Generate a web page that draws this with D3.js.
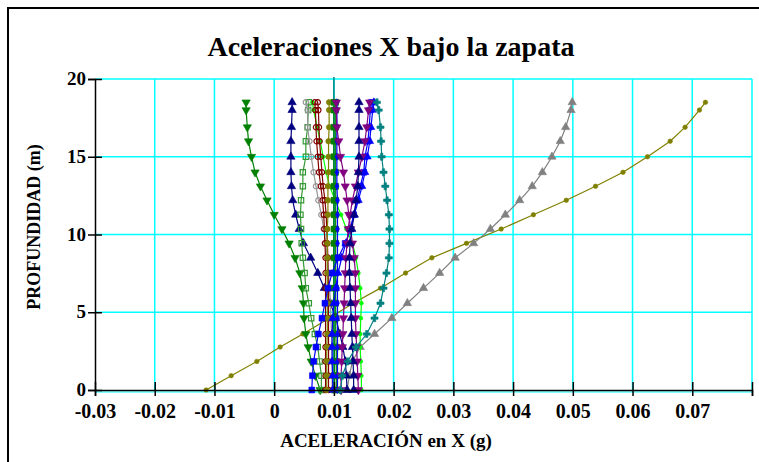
<!DOCTYPE html>
<html><head><meta charset="utf-8">
<script src="https://cdn.jsdelivr.net/npm/d3@7"></script>
<style>body{margin:0;background:#fff}svg{display:block}</style>
</head><body><svg id="c" width="759" height="462"></svg>
<script>
// depths (m), top to bottom
const depths = [18.5, 18.0, 16.9, 16.0, 15.0, 14.0, 13.1, 12.2, 11.27, 10.35, 9.43, 8.5, 7.52, 6.55, 5.58, 4.62, 3.6, 2.76, 1.84, 0.92, 0];
const xTicks = [-0.03, -0.02, -0.01, 0, 0.01, 0.02, 0.03, 0.04, 0.05, 0.06, 0.07, 0.08];
const yTicks = [0, 5, 10, 15, 20];

const sA = [-0.0047, -0.0047, -0.0045, -0.0043, -0.0038, -0.0032, -0.0023, -0.0012, 0.0000, 0.0013, 0.0025, 0.0035, 0.0043, 0.0047, 0.0049, 0.0050, 0.0053, 0.0057, 0.0062, 0.0069, 0.0077];
const sB = [0.0030, 0.0030, 0.0029, 0.0028, 0.0028, 0.0028, 0.0029, 0.0031, 0.0036, 0.0042, 0.0049, 0.0061, 0.0073, 0.0084, 0.0094, 0.0103, 0.0110, 0.0115, 0.0119, 0.0121, 0.0122];
const sC = [0.0142, 0.0142, 0.0142, 0.0142, 0.0142, 0.0141, 0.0140, 0.0137, 0.0134, 0.0130, 0.0127, 0.0126, 0.0126, 0.0127, 0.0128, 0.0129, 0.0130, 0.0131, 0.0132, 0.0133, 0.0133];
const sD = [0.0058, 0.0057, 0.0056, 0.0053, 0.0053, 0.0048, 0.0048, 0.0045, 0.0044, 0.0045, 0.0046, 0.0048, 0.0051, 0.0053, 0.0058, 0.0062, 0.0068, 0.0073, 0.0076, 0.0079, 0.0079];
const sE = [0.0053, 0.0056, 0.0056, 0.0059, 0.0062, 0.0066, 0.0070, 0.0074, 0.0079, 0.0083, 0.0086, 0.0089, 0.0091, 0.0093, 0.0094, 0.0095, 0.0096, 0.0097, 0.0097, 0.0097, 0.0097];
const sF = [0.0064, 0.0066, 0.0072, 0.0077, 0.0082, 0.0087, 0.0093, 0.0102, 0.0112, 0.0121, 0.0131, 0.0137, 0.0141, 0.0144, 0.0146, 0.0145, 0.0144, 0.0144, 0.0145, 0.0146, 0.0146];
const sG1 = [0.0068, 0.0069, 0.0070, 0.0071, 0.0073, 0.0075, 0.0078, 0.0081, 0.0083, 0.0084, 0.0085, 0.0086, 0.0086, 0.0086, 0.0086, 0.0086, 0.0086, 0.0086, 0.0086, 0.0086, 0.0086];
const sG2 = [0.0073, 0.0074, 0.0075, 0.0076, 0.0078, 0.0080, 0.0082, 0.0085, 0.0087, 0.0088, 0.0089, 0.0090, 0.0090, 0.0091, 0.0091, 0.0091, 0.0091, 0.0091, 0.0091, 0.0091, 0.0091];
const sH = [0.0092, 0.0092, 0.0092, 0.0091, 0.0091, 0.0091, 0.0090, 0.0090, 0.0090, 0.0089, 0.0089, 0.0089, 0.0089, 0.0089, 0.0089, 0.0089, 0.0089, 0.0088, 0.0088, 0.0088, 0.0088];
const sI1 = [0.0100, 0.0100, 0.0100, 0.0100, 0.0100, 0.0100, 0.0100, 0.0100, 0.0100, 0.0100, 0.0100, 0.0100, 0.0100, 0.0100, 0.0100, 0.0100, 0.0100, 0.0101, 0.0101, 0.0101, 0.0101];
const sI2 = [0.0103, 0.0103, 0.0103, 0.0103, 0.0103, 0.0103, 0.0103, 0.0103, 0.0103, 0.0103, 0.0103, 0.0103, 0.0103, 0.0103, 0.0103, 0.0103, 0.0103, 0.0104, 0.0104, 0.0104, 0.0104];
const sJ = [0.0105, 0.0105, 0.0105, 0.0105, 0.0105, 0.0105, 0.0105, 0.0106, 0.0106, 0.0106, 0.0106, 0.0106, 0.0106, 0.0106, 0.0106, 0.0106, 0.0106, 0.0106, 0.0106, 0.0106, 0.0106];
const sK = [0.0163, 0.0161, 0.0159, 0.0157, 0.0152, 0.0150, 0.0144, 0.0139, 0.0133, 0.0128, 0.0119, 0.0107, 0.0097, 0.0090, 0.0085, 0.0080, 0.0074, 0.0070, 0.0066, 0.0064, 0.0063];
const sK2 = [0.0167, 0.0165, 0.0162, 0.0160, 0.0156, 0.0152, 0.0147, 0.0141, 0.0134, 0.0127, 0.0120, 0.0113, 0.0107, 0.0103, 0.0100, 0.0098, 0.0097, 0.0097, 0.0097, 0.0098, 0.0098];
const sL = [0.0160, 0.0158, 0.0155, 0.0152, 0.0147, 0.0141, 0.0136, 0.0131, 0.0127, 0.0124, 0.0122, 0.0120, 0.0119, 0.0118, 0.0117, 0.0116, 0.0115, 0.0114, 0.0113, 0.0112, 0.0112];
const sM = [0.0104, 0.0104, 0.0105, 0.0108, 0.0111, 0.0116, 0.0119, 0.0122, 0.0125, 0.0128, 0.0131, 0.0134, 0.0136, 0.0136, 0.0136, 0.0136, 0.0137, 0.0138, 0.0139, 0.0140, 0.0141];
const sN = [0.0172, 0.0175, 0.0178, 0.0179, 0.0180, 0.0183, 0.0186, 0.0189, 0.0192, 0.0193, 0.0193, 0.0192, 0.0188, 0.0183, 0.0178, 0.0168, 0.0155, 0.0137, 0.0123, 0.0114, 0.0111];
const sP = [0.0499, 0.0497, 0.0488, 0.0479, 0.0465, 0.0449, 0.0432, 0.0411, 0.0387, 0.0362, 0.0334, 0.0303, 0.0277, 0.0250, 0.0223, 0.0197, 0.0168, 0.0144, 0.0131, 0.0126, 0.0122];
const sQ = [0.0722, 0.0712, 0.0688, 0.0663, 0.0625, 0.0584, 0.0538, 0.0489, 0.0434, 0.0380, 0.0322, 0.0264, 0.0220, 0.0178, 0.0132, 0.0092, 0.0048, 0.0010, -0.0029, -0.0072, -0.0114];

const series = [
  {v: sQ, c: "#808000", m: "circle", s: 16, open: false},
  {v: sP, c: "#808080", m: "tri", s: 30},
  {v: sA, c: "#008000", m: "itri", s: 30},
  {v: sB, c: "#000080", m: "tri", s: 30},
  {v: sD, c: "#339933", m: "square", s: 28, open: true},
  {v: sE, c: "#969696", m: "circle", s: 22, open: true},
  {v: sF, c: "#00FF00", m: "circle", s: 12},
  {v: sG1, c: "#800000", m: "circle", s: 22, open: true},
  {v: sG2, c: "#800000", m: "circle", s: 22, open: true},
  {v: sH, c: "#808000", m: "circle", s: 24},
  {v: sI1, c: "#008000", m: "square", s: 34},
  {v: sI2, c: "#008000", m: "square", s: 34},
  {v: sJ, c: "#0000FF", m: "diamond", s: 14},
  {v: sK2, c: "#0000FF", m: "tri", s: 26},
  {v: sK, c: "#0000FF", m: "square", s: 34},
  {v: sM, c: "#800080", m: "itri", s: 30},
  {v: sL, c: "#800080", m: "itri", s: 30},
  {v: sC, c: "#000080", m: "tri", s: 30},
  {v: sN, c: "#008080", m: "cross", s: 28}
];

const svg = d3.select("#c");
const x = d3.scaleLinear().domain([-0.03, 0.08]).range([95, 752]);
const y = d3.scaleLinear().domain([0, 20]).range([390, 79]);
const serif = "'Liberation Serif', 'Times New Roman', serif";

// outer frame
svg.append("rect").attr("x", 8).attr("y", 8).attr("width", 800).attr("height", 500)
  .attr("fill", "none").attr("stroke", "#000").attr("stroke-width", 2);

// title
svg.append("text").attr("x", 391).attr("y", 56).attr("text-anchor", "middle")
  .attr("font-family", serif).attr("font-weight", "bold")
  .attr("font-size", 28).text("Aceleraciones X bajo la zapata");

// grid
const g = svg.append("g");
g.selectAll(".vg").data(xTicks.filter(d => d > -0.03)).enter().append("line")
  .attr("x1", d => x(d)).attr("x2", d => x(d)).attr("y1", y(20)).attr("y2", y(0))
  .attr("stroke", "#00FFFF").attr("stroke-width", 1.5);
g.selectAll(".hg").data(yTicks.filter(d => d > 0)).enter().append("line")
  .attr("x1", x(-0.03)).attr("x2", x(0.08)).attr("y1", d => y(d)).attr("y2", d => y(d))
  .attr("stroke", "#00FFFF").attr("stroke-width", 1.5);
g.append("line").attr("x1", x(-0.03)).attr("x2", x(0.08)).attr("y1", y(0) + 2).attr("y2", y(0) + 2)
  .attr("stroke", "#00FFFF").attr("stroke-width", 1.2);
// vertical reference at 0.01
g.append("line").attr("x1", x(0.01)).attr("x2", x(0.01)).attr("y1", y(20) - 2).attr("y2", y(0))
  .attr("stroke", "#008080").attr("stroke-width", 1.5);

// series lines and markers
const line = d3.line().x(d => x(d[0])).y(d => y(d[1]));
const symMap = {circle: d3.symbolCircle, tri: d3.symbolTriangle, itri: d3.symbolTriangle, square: d3.symbolSquare, diamond: d3.symbolDiamond, cross: d3.symbolCross};
series.forEach(s => {
  const pts = s.v.map((v, i) => [v, depths[i]]);
  const sg = svg.append("g");
  sg.append("path").attr("d", line(pts)).attr("fill", "none").attr("stroke", s.c).attr("stroke-width", 1.2);
  const sym = d3.symbol().type(symMap[s.m]).size(s.s);
  sg.selectAll("path.m").data(pts).enter().append("path").attr("class", "m")
    .attr("d", sym)
    .attr("transform", d => `translate(${x(d[0])},${y(d[1])})` + (s.m === "itri" ? " rotate(180)" : ""))
    .attr("fill", s.open ? "none" : s.c).attr("stroke", s.c).attr("stroke-width", s.open ? 1.2 : 0.6);
});

// axes
const fmt = d => d === 0 ? "0" : (d < 0 ? "-" : "") + Math.abs(d).toFixed(2);
const xa = svg.append("g").attr("transform", `translate(0,${y(0)})`)
  .call(d3.axisBottom(x).tickValues(xTicks).tickSize(6).tickFormat(d => d >= 0.075 ? "" : fmt(d)));
xa.select(".domain").attr("stroke", "#000").attr("stroke-width", 1.5);
xa.selectAll(".tick line").attr("y1", -8).attr("y2", 6).attr("stroke", "#000").attr("stroke-width", 1.5);
xa.selectAll(".tick text").attr("y", 14).attr("font-family", serif)
  .attr("font-weight", "bold").attr("font-size", 20).attr("fill", "#000");

const ya = svg.append("g").attr("transform", `translate(${x(-0.03)},0)`)
  .call(d3.axisLeft(y).tickValues(yTicks).tickSize(7).tickFormat(d3.format("d")));
ya.select(".domain").attr("stroke", "#000").attr("stroke-width", 1.5);
ya.selectAll(".tick line").attr("x1", 7).attr("x2", -7).attr("stroke", "#000").attr("stroke-width", 1.5);
ya.selectAll(".tick text").attr("x", -9).attr("dy", "0.3em").attr("font-family", serif)
  .attr("font-weight", "bold").attr("font-size", 19).attr("fill", "#000");

// axis titles
svg.append("text").attr("x", 386).attr("y", 447).attr("text-anchor", "middle")
  .attr("font-family", serif).attr("font-weight", "bold")
  .attr("font-size", 19).text("ACELERACIÓN en X (g)");
svg.append("text").attr("transform", "translate(40,227) rotate(-90)").attr("text-anchor", "middle")
  .attr("font-family", serif).attr("font-weight", "bold")
  .attr("font-size", 18).text("PROFUNDIDAD (m)");
</script></body></html>
